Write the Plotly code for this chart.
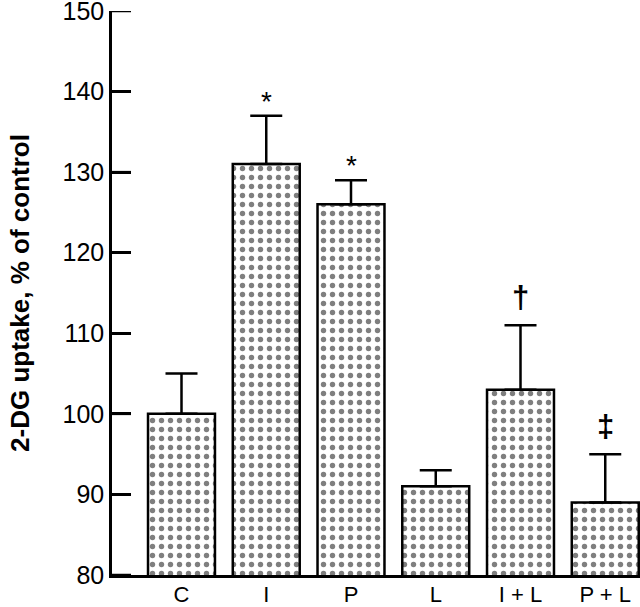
import plotly.graph_objects as go

# 2-DG uptake per treatment group (% of control)
groups = ["C", "I", "P", "L", "I + L", "P + L"]
uptake = [100, 131, 126, 91, 103, 89]
sem = [5, 6, 3, 2, 8, 6]
marks = ["", "*", "*", "", "\u2020", "\u2021"]
yticks = [80, 90, 100, 110, 120, 130, 140, 150]

FONT = "Liberation Sans, Arial, sans-serif"

fig = go.Figure()
fig.add_trace(
    go.Bar(
        x=groups,
        y=uptake,
        width=0.79,
        marker=dict(
            color="white",
            line=dict(color="black", width=2.5),
            pattern=dict(shape=".", fgcolor="black", bgcolor="white", size=9, solidity=0.28),
        ),
        error_y=dict(
            type="data",
            array=sem,
            arrayminus=[0] * len(sem),
            symmetric=False,
            color="black",
            thickness=2.5,
            width=16,
        ),
        showlegend=False,
    )
)

# significance marks above the error bars
for g, v, e, m in zip(groups, uptake, sem, marks):
    if not m:
        continue
    star = m == "*"
    fig.add_annotation(
        x=g,
        y=v + e,
        text=m if star else "<b>" + m + "</b>",
        showarrow=False,
        yanchor="bottom",
        yshift=-3 if star else 8,
        font=dict(family=FONT, size=28 if star else 31, color="black"),
    )

# inside tick marks on the y axis (drawn as short lines from the axis)
for t in yticks:
    fig.add_shape(
        type="line",
        xref="x domain",
        yref="y",
        x0=0,
        x1=0.036,
        y0=t,
        y1=t,
        line=dict(color="black", width=2.5),
        layer="above",
    )

fig.update_xaxes(
    range=[-0.82, 5.41],
    showline=True,
    linecolor="black",
    linewidth=2.5,
    ticks="",
    ticklabelstandoff=-2,
    ticklabeloverflow="allow",
    automargin=False,
    tickfont=dict(family=FONT, size=22, color="black"),
    showgrid=False,
    zeroline=False,
)
fig.update_yaxes(
    range=[80, 150],
    tickmode="array",
    tickvals=yticks,
    ticktext=[str(t) for t in yticks],
    showline=True,
    linecolor="black",
    linewidth=2.5,
    ticks="inside",
    ticklen=19,
    tickwidth=2.5,
    tickcolor="black",
    ticklabeloverflow="allow",
    automargin=False,
    tickfont=dict(family=FONT, size=25, color="black"),
    title=dict(
        text="<b>2-DG uptake, % of control</b>",
        font=dict(family=FONT, size=26, color="black"),
        standoff=26,
    ),
    showgrid=False,
    zeroline=False,
)

fig.update_layout(
    width=640,
    height=607,
    plot_bgcolor="white",
    paper_bgcolor="white",
    margin=dict(t=11, l=112, b=32, r=0),
    bargap=0.2,
)

# drop the default page margin so the figure sits at the window's corner
fig.write_html(
    "out.html",
    config={"displayModeBar": False},
    post_script="document.body.style.margin = '0';",
)
